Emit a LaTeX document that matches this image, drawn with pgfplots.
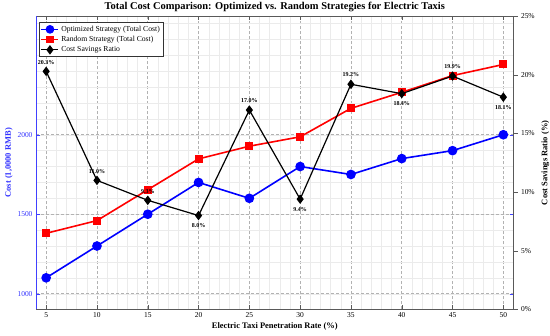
\documentclass[border=0pt]{standalone}
\usepackage{pgfplots}
\pgfplotsset{compat=1.18}
\usepackage{fontspec}
\setmainfont{Liberation Serif}
\begin{document}
\begin{tikzpicture}
\pgfplotsset{
  every axis/.append style={
    /pgf/number format/assume math mode=true,
    /pgf/number format/1000 sep={},
  }
}
\begin{axis}[
  at={(0,0)}, anchor=south west,
  scale only axis, width=477.5bp, height=293bp,
  xmin=4, xmax=51, ymin=902, ymax=2745,
  xtick={5,10,...,50}, minor x tick num=4,
  ytick={1000,1500,2000}, minor ytick={900,1000,...,2700},
  grid=both,
  major grid style={dash pattern=on 3bp off 2bp, black!30, line width=0.6bp},
  minor grid style={black!8, line width=0.4bp},
  tick align=inside, xtick pos=both, ytick pos=both,
  major tick length=4bp, minor tick length=0pt,
  separate axis lines,
  x axis line style={black!65, line width=0.7bp},
  y axis line style={blue!75, line width=0.8bp},
  x tick style={black!65},
  y tick style={blue!75},
  yticklabel style={blue!80, font=\fontsize{7.5}{8}\selectfont},
  xticklabel style={font=\fontsize{7.5}{8}\selectfont},
  ylabel={\textbf{Cost (1,0000 RMB)}},
  ylabel style={blue!80, font=\fontsize{8.5}{10}\selectfont, yshift=-2bp},
  xlabel={\textbf{Electric Taxi Penetration Rate (\%)}},
  xlabel style={font=\fontsize{8.5}{10}\selectfont, yshift=2bp},
]
\addplot[blue, line width=1.6bp, mark=*, mark size=4bp] coordinates {
 (5,1100) (10,1300) (15,1500) (20,1700) (25,1600) (30,1800) (35,1750) (40,1850) (45,1900) (50,2000)};
\addplot[red, line width=1.6bp, mark=square*, mark size=3.2bp] coordinates {
 (5,1380) (10,1460) (15,1654) (20,1848) (25,1928) (30,1987) (35,2166) (40,2267) (45,2372) (50,2442)};
\end{axis}
\begin{axis}[
  at={(0,0)}, anchor=south west,
  scale only axis, width=477.5bp, height=293bp,
  xmin=4, xmax=51, ymin=0, ymax=25,
  axis x line=none, axis y line*=right,
  ytick={0,5,...,25},
  yticklabel={\pgfmathprintnumber{\tick}\%},
  yticklabel style={font=\fontsize{7.5}{8}\selectfont},
  tick align=outside, major tick length=4bp, minor tick length=0pt,
  y axis line style={black!65, line width=0.7bp},
  y tick style={black!65},
  ylabel={\textbf{Cost Savings Ratio (\%)}},
  ylabel style={font=\fontsize{8.5}{10}\selectfont},
  legend style={at={(0.006,0.98)}, anchor=north west, draw=black!80, line width=0.6bp,
    font=\fontsize{7.7}{8.5}\selectfont, inner sep=1.5bp, row sep=-0.5bp, fill=white},
  legend cell align=left,
]
\addlegendimage{blue, line width=1.6bp, mark=*, mark size=3.5bp}
\addlegendentry{Optimized Strategy (Total Cost)}
\addlegendimage{red, line width=1.6bp, mark=square*, mark size=2.8bp}
\addlegendentry{Random Strategy (Total Cost)}
\addplot[black, line width=1.2bp, mark=diamond*, mark size=3.8bp] coordinates {
 (5,20.3) (10,11.0) (15,9.3) (20,8.0) (25,17.0) (30,9.4) (35,19.2) (40,18.4) (45,19.9) (50,18.1)};
\addlegendentry{Cost Savings Ratio}
\begin{scope}[every node/.style={font=\bfseries\fontsize{6}{7}\selectfont, inner sep=0pt}]
\node[anchor=south] at ([yshift=7bp]axis cs:5,20.3) {20.3\%};
\node[anchor=south] at ([yshift=7bp]axis cs:10,11.0) {11.0\%};
\node[anchor=south] at ([yshift=7bp]axis cs:15,9.3) {9.3\%};
\node[anchor=north] at ([yshift=-8bp]axis cs:20,8.0) {8.0\%};
\node[anchor=south] at ([yshift=7bp]axis cs:25,17.0) {17.0\%};
\node[anchor=north] at ([yshift=-8bp]axis cs:30,9.4) {9.4\%};
\node[anchor=south] at ([yshift=7bp]axis cs:35,19.2) {19.2\%};
\node[anchor=north] at ([yshift=-8bp]axis cs:40,18.4) {18.4\%};
\node[anchor=south] at ([yshift=7bp]axis cs:45,19.9) {19.9\%};
\node[anchor=north] at ([yshift=-8bp]axis cs:50,18.1) {18.1\%};
\end{scope}
\end{axis}
\node[anchor=south, inner sep=0pt, font=\bfseries\fontsize{10.5}{12}\selectfont] at (238.75bp,297bp) {Total Cost Comparison: Optimized vs. Random Strategies for Electric Taxis};
\pgfresetboundingbox
\path[use as bounding box] (-36bp,-26.7bp) rectangle (514bp,309.3bp);
\end{tikzpicture}
\end{document}
